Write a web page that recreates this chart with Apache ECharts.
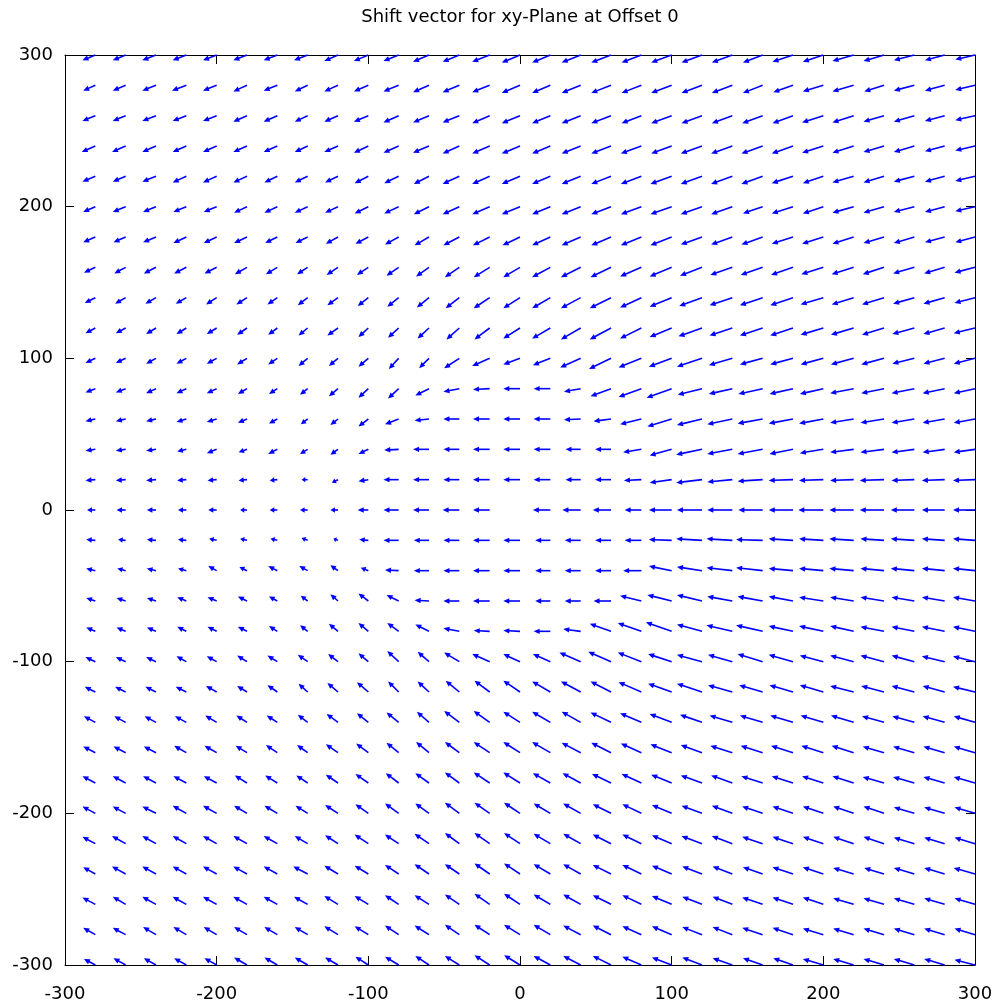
<!DOCTYPE html>
<html><head><meta charset="utf-8">
<script src="https://cdn.jsdelivr.net/npm/echarts@6/dist/echarts.min.js"></script>
<style>html,body{margin:0;padding:0;background:#fff}#c{width:998px;height:1007px}</style>
</head><body><div id="c"></div>
<script>
const chartTitle = 'Shift vector for xy-Plane at Offset 0';
const xs = [-280,-260,-240,-220,-200,-180,-160,-140,-120,-100,-80,-60,-40,-20,0,20,40,60,80,100,120,140,160,180,200,220,240,260,280,300];
const ys = [300,280,260,240,220,200,180,160,140,120,100,80,60,40,20,0,-20,-40,-60,-80,-100,-120,-140,-160,-180,-200,-220,-240,-260,-280,-300];
const tickValues = [-300,-200,-100,0,100,200,300];

// shift vector x-components, one row per y (top to bottom), one column per x (left to right)
const DX = [
[-8.5,-8.5,-9,-9,-9,-9,-9,-9,-9,-9.5,-10,-10.5,-11,-11.5,-12,-12,-12.5,-13,-13,-13.5,-13.5,-13.5,-13,-13.5,-13.5,-14,-13.5,-13.5,-13,-13],
[-8,-8.5,-9,-9.5,-9,-9,-9,-8.5,-9,-9.5,-10,-10.5,-11,-11.5,-12,-12,-12.5,-13,-13,-13.5,-13.5,-13.5,-13,-13,-13.5,-14,-13,-13.5,-13,-13],
[-8.5,-8.5,-9,-9,-9,-9,-9,-8.5,-9,-9.5,-10,-10.5,-11,-11.5,-12,-12,-12.5,-13,-13,-13.5,-13.5,-13.5,-13.5,-13.5,-14,-14,-13.5,-13.5,-13,-13],
[-9,-9,-9,-9,-9,-9,-9,-8.5,-9,-9.5,-10,-10.5,-11,-11.5,-12,-12,-12.5,-13,-13.5,-13.5,-14,-14,-14,-14,-14,-14,-13.5,-13.5,-13,-13],
[-8.5,-8.5,-9,-9,-9,-9,-8.5,-8.5,-8.5,-9,-9.5,-10,-11,-11.5,-12,-12,-12.5,-13,-13.5,-14,-14,-14,-14,-14,-13.5,-14,-13.5,-13.5,-13,-13],
[-8,-8.5,-8.5,-8.5,-8.5,-8.5,-8.5,-8.5,-8.5,-9,-9.5,-10,-11,-11.5,-12,-12,-12.5,-13,-13.5,-14,-14,-14,-13,-14,-13.5,-14,-13.5,-13.5,-13,-13],
[-8,-8,-8.5,-8.5,-8.5,-8.5,-8,-8,-8,-8.5,-9,-9.5,-10.5,-11,-11.5,-12,-12.5,-13,-13.5,-14,-14,-14,-14,-14,-14,-14,-13.5,-13.5,-13,-13],
[-7.5,-7.5,-8,-8,-8,-8,-7.5,-7,-7.5,-7.5,-8,-8.5,-9.5,-10.5,-11,-12,-13,-13.5,-14,-14.5,-14.5,-14.5,-14.5,-14.5,-14.5,-14.5,-14,-14,-13.5,-13.5],
[-7,-7,-7,-7,-7,-7,-6.5,-6.5,-7,-7,-7.5,-8,-9,-10.5,-11,-12,-13,-14,-14,-14.5,-15,-15,-15,-15,-15,-14.5,-14.5,-14,-14,-13.5],
[-6.5,-6.5,-6.5,-6.5,-6.5,-6.5,-6,-6,-7,-6.5,-7,-7.5,-8.5,-10,-11,-12,-13,-14,-14,-14.5,-15.5,-15,-15,-15,-15,-15,-14.5,-14.5,-14,-14],
[-6.5,-6.5,-6.5,-6.5,-6.5,-6.5,-6,-6,-6,-6.5,-6.5,-6.5,-10,-11.5,-11,-11.5,-13.5,-14.5,-15,-15,-16.5,-15.5,-15,-15,-15,-15,-15,-14.5,-14,-14],
[-6.5,-6.5,-6.5,-6.5,-6.5,-6,-5.5,-5,-6,-6.5,-7,-9,-10.5,-11,-11,-11,-11,-13.5,-15,-16.5,-16,-15.5,-16,-15.5,-15.5,-15.5,-15,-15,-14.5,-14],
[-6.5,-6.5,-6.5,-6.5,-6.5,-6,-5.5,-4.5,-5,-6.5,-9,-9.5,-10.5,-11,-11,-11,-11,-11.5,-14,-16,-16.5,-16.5,-16.5,-16,-16,-15.5,-15.5,-15,-14.5,-14],
[-6.5,-6.5,-6.5,-6,-6.5,-5.5,-6,-5,-5,-6.5,-9.5,-10.5,-10.5,-11,-11,-11,-10,-10.5,-12,-14.5,-17,-16.5,-16.5,-15.5,-15.5,-15.5,-15.5,-15,-14.5,-14],
[-6.5,-6.5,-6.5,-6,-6,-5.5,-5,-4,-4,-6.5,-10,-10.5,-10.5,-11,-11,-11,-10,-10.5,-11.5,-14.5,-17,-16.5,-16.5,-16,-16,-15.5,-16,-15,-15,-14.5],
[-5.5,-6,-6,-5.5,-5.5,-4.5,-5,-5,-5,-7,-10,-10.5,-11,-11,null,-11.5,-12,-12,-11,-15,-16.5,-16.5,-16,-16,-16.5,-16,-16,-15.5,-15,-14.5],
[-6,-5,-6,-5.5,-5,-4.5,-4.5,-4,-3,-6,-10,-10,-10.5,-11,-11,-10,-10.5,-10.5,-11,-15,-17,-17,-17.5,-16,-16,-16,-15.5,-15.5,-15,-14.5],
[-6,-5.5,-6,-5.5,-5.5,-5,-6,-5.5,-5,-5,-9,-10,-10.5,-11,-11,-10,-10.5,-10.5,-12,-15,-16.5,-17,-17.5,-16,-16,-16,-15.5,-15.5,-15,-14.5],
[-6,-6,-6,-6,-6,-6,-5.5,-4.5,-5,-6.5,-8,-9.5,-10.5,-11,-11,-10,-10.5,-11.5,-14,-16,-16.5,-16.5,-16.5,-16,-16,-15.5,-15.5,-15,-15,-14.5],
[-6,-6,-6,-6,-6,-6,-5.5,-5,-6,-6.5,-7.5,-9,-10.5,-10.5,-11,-11,-11.5,-14,-15.5,-17,-16.5,-17,-17.5,-16,-16,-15.5,-15.5,-15,-15,-14.5],
[-6.5,-6.5,-6.5,-6.5,-6.5,-6.5,-6.5,-6.5,-6.5,-6.5,-7.5,-7.5,-10,-11.5,-11,-11.5,-14,-15,-15.5,-15.5,-16.5,-16,-16.5,-16,-15.5,-15.5,-15.5,-15,-15,-14.5],
[-7,-7,-7,-7,-7,-6.5,-6.5,-6,-7,-7.5,-7,-7.5,-9,-10,-11,-12,-13,-13.5,-15,-15.5,-16.5,-16,-15.5,-15.5,-15.5,-15.5,-15,-15,-14.5,-14.5],
[-7.5,-7.5,-7.5,-7.5,-7.5,-7,-7,-6.5,-7.5,-7.5,-8,-8,-10,-10.5,-11,-12,-12.5,-13.5,-14,-14.5,-14.5,-15,-15,-15,-15,-15,-14.5,-14.5,-14.5,-14],
[-8,-8,-8,-8,-8,-7.5,-7.5,-7,-8,-8,-8,-8.5,-9.5,-10.5,-11,-12,-12.5,-13,-13.5,-14,-14,-14.5,-14.5,-14.5,-14.5,-14.5,-14,-14,-14,-14],
[-8.5,-8.5,-8.5,-8.5,-8.5,-8,-8,-7.5,-8,-8.5,-8.5,-9,-9.5,-10.5,-11,-11.5,-12,-12.5,-13,-13.5,-14,-14,-14,-14,-14,-14,-14,-14,-14,-14],
[-8.5,-8.5,-9,-9,-9,-8.5,-8.5,-8,-8.5,-8.5,-9,-9,-9.5,-10,-10.5,-11,-11.5,-12,-12.5,-13,-13.5,-13.5,-13.5,-13.5,-13.5,-13.5,-13.5,-13.5,-13.5,-13.5],
[-8.5,-9,-9,-9,-9,-9,-9,-8.5,-8.5,-9,-9,-9.5,-9.5,-10,-10.5,-11,-11.5,-12,-12.5,-13,-13.5,-13.5,-13.5,-13.5,-13.5,-13.5,-13.5,-13.5,-13.5,-13.5],
[-8,-9,-9,-9,-9,-9,-9,-9.5,-9,-9,-9,-9.5,-9.5,-10,-10.5,-11,-11.5,-12,-12.5,-13,-13,-13,-13,-13.5,-13.5,-13.5,-13,-13.5,-13.5,-14],
[-8.5,-8.5,-9,-9,-9,-9,-9,-9,-9,-9,-9,-9.5,-9.5,-10,-10.5,-11,-11.5,-12,-12.5,-13,-13,-13,-13.5,-13.5,-13.5,-13.5,-13.5,-13.5,-13.5,-13.5],
[-8,-8.5,-8.5,-8.5,-8.5,-8.5,-8.5,-8.5,-9,-9,-9,-9.5,-9.5,-10,-10.5,-11,-11.5,-12,-12.5,-13,-13,-13,-13.5,-13.5,-13.5,-13.5,-13.5,-13.5,-13.5,-13.5],
[-7.5,-8,-8,-8,-8,-8.5,-8.5,-8.5,-8.5,-8.5,-9,-9,-9.5,-10,-10.5,-11,-11.5,-12,-12.5,-13,-13,-13,-13,-13,-13.5,-13.5,-13.5,-13.5,-13.5,-13.5]
];

// shift vector y-components, same layout
const DY = [
[-3.5,-3.5,-3.5,-3.5,-3.5,-3.5,-3.5,-3.5,-4,-4,-4,-4.5,-4.5,-4.5,-5,-5,-5,-5,-5,-5,-5,-5,-5,-4.5,-4.5,-4,-4,-3.5,-3.5,-3],
[-3.5,-3.5,-3.5,-3.5,-3.5,-4,-3.5,-4,-4,-4,-4,-4.5,-4.5,-4.5,-5,-5,-5,-5,-5,-5,-5,-5,-5,-4.5,-4,-4,-4,-3.5,-3.5,-3],
[-3.5,-3.5,-3.5,-3.5,-3.5,-4,-4,-4,-4,-4,-4.5,-4.5,-4.5,-5,-5,-5,-5,-5,-5,-5,-5,-5,-5,-5,-4.5,-4.5,-4,-4,-3.5,-3],
[-4,-4,-4,-4,-4,-4,-4,-4,-4,-4.5,-4.5,-4.5,-5,-5,-5,-5,-5,-5,-5,-5,-5,-5,-5,-5,-4.5,-4.5,-4,-4,-3.5,-3],
[-3.5,-3.5,-3.5,-4,-4,-4,-4,-4,-4,-4.5,-4.5,-5,-5,-5,-5,-5,-5,-5,-5,-5,-5,-5,-5,-4.5,-4.5,-4,-4,-3.5,-3.5,-3],
[-3.5,-3.5,-3.5,-3.5,-3.5,-4,-4,-4,-4,-4.5,-4.5,-5,-5,-5,-5,-5,-5,-5,-5,-5,-5,-5,-4.5,-4.5,-4.5,-4,-4,-3.5,-3.5,-3],
[-3.5,-3.5,-3.5,-4,-4,-4,-4,-4,-4.5,-4.5,-5,-5.5,-5.5,-5.5,-5.5,-5.5,-5.5,-5.5,-5.5,-5.5,-5,-5,-5,-4.5,-4.5,-4.5,-4,-4,-3.5,-3.5],
[-3.5,-4,-4,-4,-4,-4.5,-4.5,-4.5,-5,-5,-5.5,-6,-6.5,-6.5,-6.5,-6.5,-6.5,-6.5,-6,-6,-5.5,-5,-5,-5,-4.5,-4.5,-4.5,-4,-4,-3.5],
[-3.5,-4,-4,-4,-4.5,-4.5,-4.5,-5,-5,-5.5,-6,-6.5,-7,-7,-7,-7,-7,-7,-6.5,-6,-5.5,-5,-5,-5,-4.5,-4.5,-4.5,-4,-4,-3.5],
[-3.5,-3.5,-4,-4,-4,-4.5,-4.5,-5,-5,-6,-6.5,-7,-7.5,-7.5,-7,-7,-7.5,-7.5,-7,-6,-5.5,-5,-5,-5,-4.5,-4.5,-4.5,-4,-4,-3.5],
[-3,-3,-3.5,-3.5,-3.5,-4,-4,-5,-5,-5.5,-7,-6.5,-6.5,-5,-4,-4.5,-6,-7,-6,-5.5,-5.5,-4.5,-4,-4,-4,-4,-4,-3.5,-3.5,-3.5],
[-2.5,-2.5,-3,-3,-3,-3.5,-3.5,-4,-5,-6,-6.5,-4.5,-2,-0.5,0,0,-2,-5,-5.5,-6,-4,-3.5,-3.5,-3.5,-3.5,-3,-3,-3,-3,-3],
[-1.5,-1.5,-1.5,-2,-2,-2.5,-3,-3.5,-4,-5,-3.5,-1,0,0,0,0,-0.5,-1.5,-3.5,-5,-4,-3.5,-3,-3,-3,-2.5,-2.5,-2.5,-2.5,-2.5],
[-1,-1,-1,-1.5,-2.5,-2,-3,-3,-3.5,-3,-0.5,0,0,0,0,0,0,0,-2,-4,-3.5,-3,-3,-3,-2.5,-2,-2,-2,-2,-2],
[-0.5,-0.5,-0.5,-0.5,-0.5,-0.5,-0.5,0,-2,-1,0,0,0,0,0,0,0,0,-0.5,-2,-2,-1.5,-1,-0.5,-0.5,-0.5,-0.5,-0.5,-0.5,-0.5],
[0,0,0,0,0,0,0,0,0,0,0,0,0,0,0,0,0,0,0,0,0,0,0,0,0,0,0,0,0,0],
[0.5,0.5,0.5,0.5,1,1,1,1.5,1,0.5,0,0,0,0,0,0,0,0,0,0.5,1,1,0.5,1,1,1,1,1,1,1],
[1.5,1.5,1.5,1.5,3,2.5,3,3,3.5,2,0.5,0,0,0,0,0,0,0,0,3,2.5,2,2,1.5,1.5,1.5,1.5,1.5,1.5,1.5],
[2,2,2,2.5,2.5,3,3,3.5,4.5,5,4,0.5,0,0,0,0,0,0,3.5,4,4,3,3,3,2.5,2.5,2.5,2.5,2.5,2.5],
[2.5,2.5,2.5,3,3,3,3.5,4,5,5.5,5.5,4.5,2,0.5,0.5,0,1.5,5,5.5,6,4.5,4,4,3.5,3.5,3.5,3,3,3,3],
[3,3,3,3.5,3.5,4,4,4.5,5,5.5,7,6.5,6,5,5,5,6,6.5,6,5,4.5,4.5,5,4.5,4,4,4,4,3.5,3.5],
[3.5,3.5,3.5,3.5,4,4,4.5,5.5,6,6.5,7,7,7.5,7.5,7.5,7,7,7,6.5,5.5,5.5,4.5,4.5,4.5,4.5,4,4,4,4,3.5],
[4,4,4,4,4.5,4.5,4.5,5,5.5,6,6.5,7,7.5,7.5,7,7,7,6.5,6,5.5,5,4.5,4.5,4.5,4.5,4.5,4,4,4,4],
[4,4,4,4.5,4.5,4.5,5,5,5.5,6,6.5,7,7,7,7,7,6.5,6.5,6,5.5,5,4.5,4.5,4.5,4.5,4.5,4,4,4,4],
[4.5,4.5,4.5,4.5,4.5,5,5,5,5.5,6,6.5,6.5,7,7,7,6.5,6.5,6,6,5.5,5,5,4.5,4.5,4.5,4.5,4,4,4,4],
[4.5,4.5,4.5,5,5,5,5,5,5.5,6,6.5,6.5,7,7,7,6.5,6.5,6,6,5.5,5,5,4.5,4.5,4.5,4.5,4.5,4,4,4],
[4.5,5,5,5,5,5,5,5,5.5,6,6,6.5,7,7,7,6.5,6.5,6,6,5.5,5,5,4.5,4.5,4.5,4.5,4.5,4,4,4],
[4.5,5,5,5,5,5,5,5,5.5,5.5,6,6.5,6.5,7,7,6.5,6.5,6,6,5.5,5,5,4.5,4.5,4.5,4,4,4,4,4],
[4.5,5,5,5,5,5,5,5,5.5,5.5,6,6,6.5,7,7,6.5,6.5,6,6,5.5,5,5,4.5,4.5,4.5,4,4,4,4,4],
[4.5,4.5,5,5,5,5,5,5,5.5,5.5,6,6,6.5,6.5,6.5,6.5,6,6,5.5,5.5,5,5,4.5,4.5,4,4,4,4,4,4],
[4,4.5,4.5,4.5,4.5,5,5,5,5,5.5,5.5,6,6,6.5,6.5,6,6,6,5.5,5,5,4.5,4.5,4.5,4,4,4,4,4,3.5]
];

const vectors = [];
ys.forEach((y, i) => xs.forEach((x, j) => {
  const dx = DX[i][j], dy = DY[i][j];
  if (dx == null || dy == null) return;
  vectors.push([x, y, dx, dy]);
}));

const BLUE = '#0000ff';
function renderArrow(params, api) {
  const x = api.value(0), y = api.value(1), dx = api.value(2), dy = api.value(3);
  const p0 = api.coord([x, y]);
  const p1 = api.coord([x + dx, y + dy]);
  const vx = p1[0] - p0[0], vy = p1[1] - p0[1];
  const L = Math.hypot(vx, vy);
  if (L < 0.5) return;
  const ux = vx / L, uy = vy / L;
  const hl = Math.min(6, L * 0.6), hw = 2.7;
  const bx = p1[0] - ux * hl, by = p1[1] - uy * hl;
  return {
    type: 'group',
    children: [
      { type: 'line', shape: { x1: p0[0], y1: p0[1], x2: bx + ux, y2: by + uy },
        style: { stroke: BLUE, lineWidth: 1.6 } },
      { type: 'polygon', shape: { points: [[p1[0], p1[1]], [bx - uy * hw, by + ux * hw], [bx + uy * hw, by - ux * hw]] },
        style: { fill: BLUE } }
    ]
  };
}

const FONT = 'DejaVu Sans';
function axisBase(pos, showLabel, margin) {
  return {
    type: 'value', min: -300, max: 300, interval: 100, position: pos,
    axisLine: { show: true, onZero: false, lineStyle: { color: '#000', width: 1 } },
    axisTick: { show: true, inside: true, length: 9, lineStyle: { color: '#000', width: 1 } },
    axisLabel: { show: showLabel, color: '#000', fontFamily: FONT, fontSize: 18, margin: margin,
      formatter: v => tickValues.includes(v) ? String(v) : '' },
    splitLine: { show: false }
  };
}

const chart = echarts.init(document.getElementById('c'), null, { renderer: 'canvas' });
chart.setOption({
  animation: false,
  backgroundColor: '#fff',
  grid: { left: 65, right: 23, top: 55, bottom: 42, containLabel: false },
  graphic: [{ type: 'text', x: 520, y: 17,
    style: { text: chartTitle, font: '18px "DejaVu Sans"', fill: '#000', align: 'center', verticalAlign: 'middle' } }],
  xAxis: [axisBase('bottom', true, 20), axisBase('top', false, 8)],
  yAxis: [axisBase('left', true, 12), axisBase('right', false, 8)],
  series: [{
    type: 'custom', xAxisIndex: 0, yAxisIndex: 0, clip: false,
    renderItem: renderArrow, data: vectors
  }]
});
</script>
</body></html>
